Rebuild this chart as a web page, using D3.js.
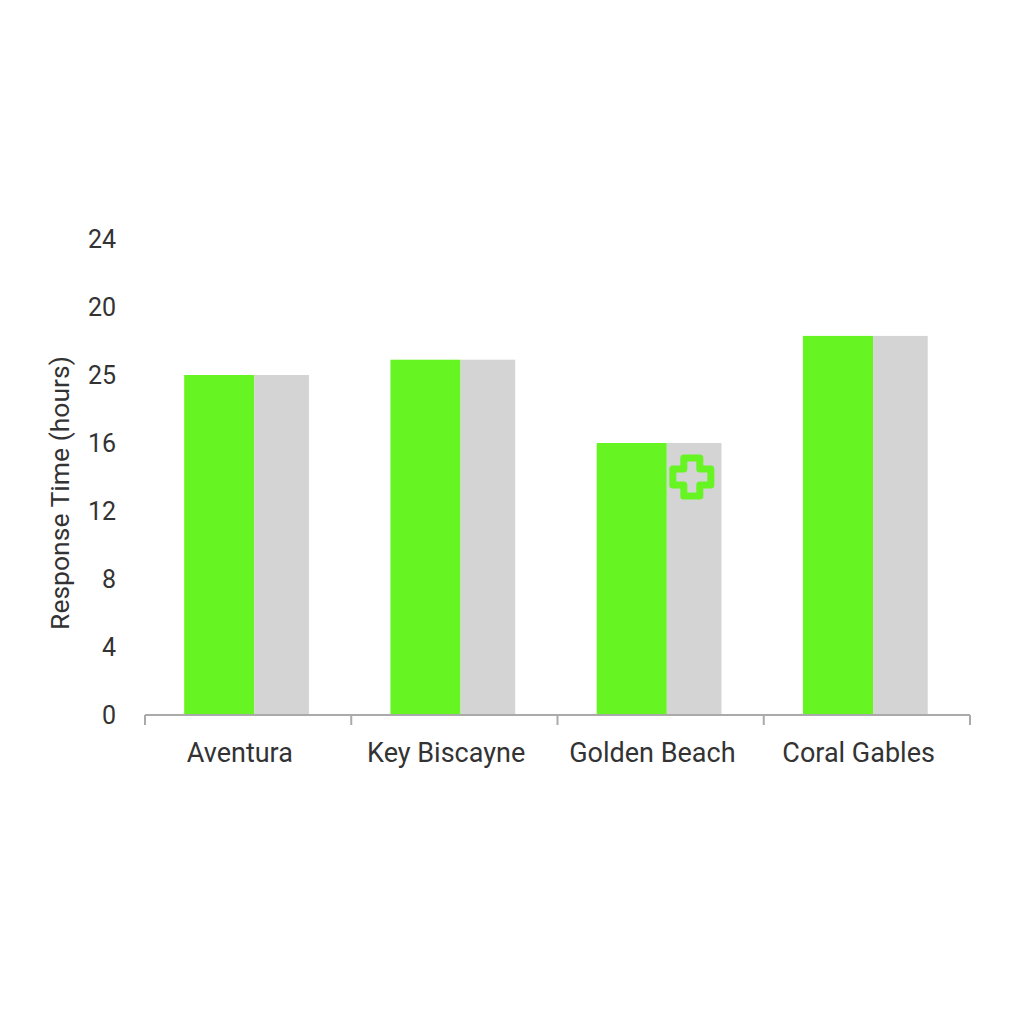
<!DOCTYPE html>
<html><head><meta charset="utf-8">
<script src="https://cdn.jsdelivr.net/npm/d3@7/dist/d3.min.js"></script>
<style>body{margin:0;background:#fff}</style></head>
<body><svg id="c" width="1024" height="1024"></svg>
<script>
const categories=["Aventura","Key Biscayne","Golden Beach","Coral Gables"];
const greenValues=[20,20.9,16,22.3];
const grayValues=[20,20.9,16,22.3];
const tickValues=[0,4,8,12,16,20,24,28];
const tickLabels=["0","4","8","12","16","25","20","24"];
const svg=d3.select("#c");
const x=d3.scaleBand().domain(categories).range([145,970]);
const y=d3.scaleLinear().domain([0,28]).range([715,239]);
const bw=x.bandwidth();
const g=svg.append("g");
categories.forEach((c,i)=>{
  const x0=x(c)+bw*0.19;
  g.append("rect").attr("x",x0).attr("width",bw*0.34).attr("y",y(greenValues[i])).attr("height",y(0)-y(greenValues[i])).attr("fill","#66f522");
  g.append("rect").attr("x",x0+bw*0.34).attr("width",bw*0.265).attr("y",y(grayValues[i])).attr("height",y(0)-y(grayValues[i])).attr("fill","#d4d4d4");
});
const px=x("Golden Beach")+bw*0.19+bw*0.34+25, py=y(16)+34;
const s=8,t=11;
const p=`M${px-s},${py-s-t}h${2*s}v${t}h${t}v${2*s}h${-t}v${t}h${-2*s}v${-t}h${-t}v${-2*s}h${t}z`;
svg.append("path").attr("d",p).attr("fill","none").attr("stroke","#66f522").attr("stroke-width",7).attr("stroke-linejoin","round");
tickValues.forEach((v,i)=>{
  svg.append("text").attr("x",116).attr("y",y(v)+9).attr("text-anchor","end").attr("font-family","Roboto").attr("font-size",25).attr("fill","#333").text(tickLabels[i]);
});
const xa=svg.append("g").attr("transform","translate(0,715)");
xa.append("line").attr("x1",145).attr("x2",970).attr("stroke","#aaa").attr("stroke-width",2);
[...categories.map(c=>x(c)),970].forEach(v=>xa.append("line").attr("x1",v).attr("x2",v).attr("y1",0).attr("y2",10).attr("stroke","#aaa").attr("stroke-width",2));
categories.forEach(c=>svg.append("text").attr("x",x(c)+bw*0.46).attr("y",762).attr("text-anchor","middle").attr("font-family","Roboto").attr("font-size",27).attr("fill","#333").text(c));
svg.append("text").attr("transform","translate(69,493) rotate(-90)").attr("text-anchor","middle").attr("font-family","Roboto").attr("font-size",26.5).attr("fill","#333").text("Response Time (hours)");
</script></body></html>
